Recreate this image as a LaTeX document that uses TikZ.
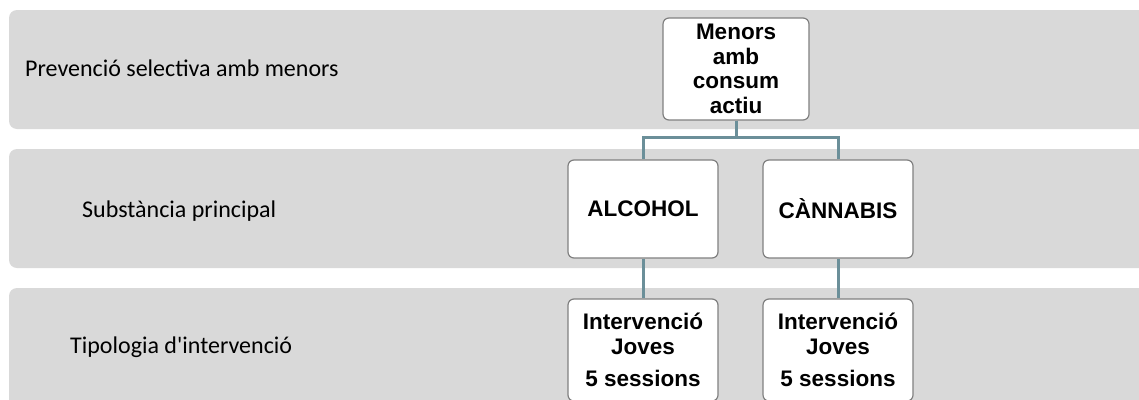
\documentclass[tikz,border=0pt]{standalone}
\usepackage{fontspec}
\setmainfont{Carlito}
\newfontfamily\boxfont{Liberation Sans}
\usepackage{xcolor}
\usetikzlibrary{positioning}
\definecolor{bandgray}{HTML}{D9D9D9}
\definecolor{boxline}{HTML}{808080}
\definecolor{linkteal}{HTML}{6B8F99}

\begin{document}
\begin{tikzpicture}[x=1pt, y=-1pt,
    band/.style={fill=bandgray, rounded corners=8pt},
    rowlabel/.style={anchor=west, inner sep=0pt, font=\fontsize{24}{28}\selectfont},
    card/.style={draw=boxline, line width=1.2pt, fill=white, rounded corners=6pt,
        minimum width=150pt, align=center, inner sep=0pt,
        font=\boxfont\bfseries\fontsize{22.5}{24.5}\selectfont},
    link/.style={draw=linkteal, line width=3pt}] % pixel units, y downwards
    \useasboundingbox (0,0) rectangle (1139,399);
    \clip (0,0) rectangle (1139,399);

    % Grey bands
    \fill[band] (9,10) rectangle (1170,129);
    \fill[band] (9,149) rectangle (1170,268);
    \fill[band] (9,288) rectangle (1170,430);

    % Row labels
    \node[rowlabel] (rowprev) at (25,68) {Prevenció selectiva amb menors};
    \node[rowlabel] (rowsubs) at (82,211) {Substància principal};
    \node[rowlabel] (rowtipo) at (70,347) {Tipologia d\textquotesingle intervenció};

    % Boxes
    \node[card, minimum width=146pt, minimum height=102pt] (menors) at (736,69)
        {Menors\\ amb\\ consum\\ actiu};
    \node[card, minimum height=98pt] (alcohol) at (643,209) {ALCOHOL};
    \node[card, minimum height=98pt] (cannabis) at (838,209) {CÀNNABIS};
    \node[card, minimum height=102pt] (jovesA) at (643,350)
        {Intervenció\\ Joves\\[8pt] 5 sessions};
    \node[card, minimum height=102pt] (jovesB) at (838,350)
        {Intervenció\\ Joves\\[8pt] 5 sessions};

    % Connectors
    \draw[link] (menors.south) -- ++(0,17) -| (alcohol.north);
    \draw[link] (menors.south) -- ++(0,17) -| (cannabis.north);
    \draw[link] (alcohol.south) -- (jovesA.north);
    \draw[link] (cannabis.south) -- (jovesB.north);

\end{tikzpicture}
\end{document}
